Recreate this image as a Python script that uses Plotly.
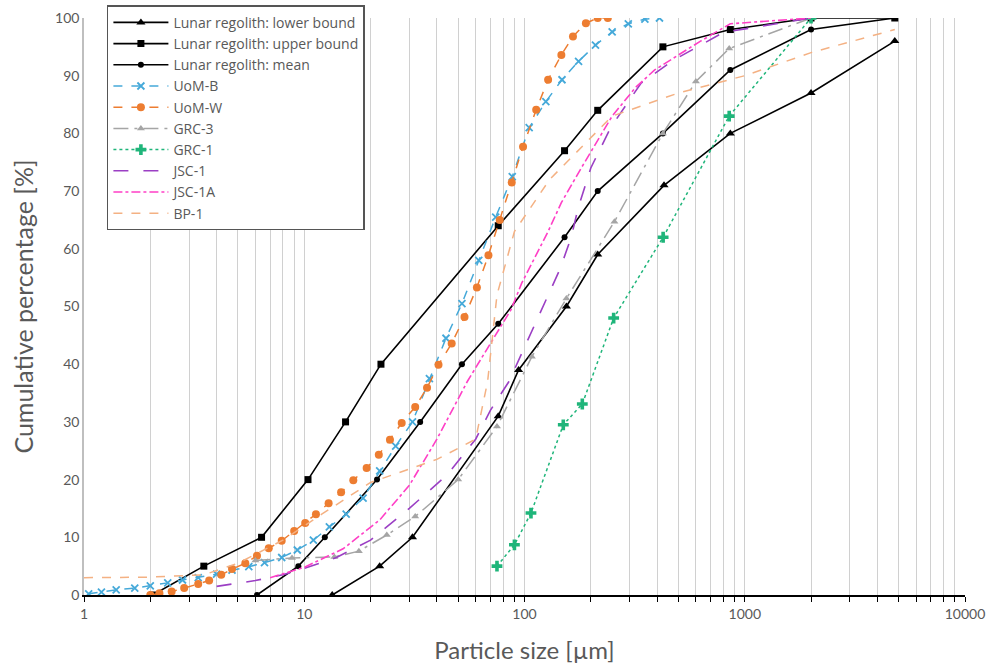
import plotly.graph_objects as go

# ---------------- data ----------------
lower_x = [13.4, 22, 31, 76, 94, 155, 215, 430, 860, 2000, 4800]
lower_y = [0, 5, 10, 31, 39, 50, 59, 71, 80, 87, 96]

upper_x = [2.05, 3.5, 6.4, 10.4, 15.4, 22.3, 76, 152, 215, 425, 860, 2000, 4800]
upper_y = [0, 5, 10, 20, 30, 40, 64, 77, 84, 95, 98, 100, 100]

mean_x = [6.1, 9.4, 12.4, 21.4, 33.6, 52, 76, 152, 215, 425, 860, 2000, 4800]
mean_y = [0, 5, 10, 20, 30, 40, 47, 62, 70, 80, 91, 98, 100]

uomb_x = [1.05, 1.2, 1.4, 1.7, 2, 2.4, 2.8, 3.3, 4, 4.7, 5.6, 6.6, 7.9, 9.3, 11, 13, 15.5,
          18.5, 22, 26, 31, 37, 44, 52, 62, 74, 88, 105, 125, 148, 176, 210, 250, 296, 352, 410]
uomb_y = [0.2, 0.5, 0.9, 1.2, 1.6, 2.1, 2.6, 3.0, 3.6, 4.3, 4.9, 5.6, 6.5, 7.8, 9.5, 11.8, 14,
          16.8, 21.5, 25.8, 30, 37.5, 44.5, 50.5, 58, 65.5, 72.5, 81, 85.5, 89.3, 92.5, 95.3, 97.6, 99, 99.8, 100]

uomw_x = [2, 2.2, 2.5, 2.85, 3.3, 3.7, 4.2, 4.7, 5.4, 6.1, 6.9, 7.9, 9, 10.1, 11.3, 12.9, 14.7,
          16.7, 19.2, 21.8, 24.5, 27.7, 31.9, 36.1, 40.7, 46.7, 53.4, 60.8, 68.6, 77.2, 87.5,
          98.5, 113, 128, 147, 166, 190, 215, 239]
uomw_y = [0, 0.3, 0.6, 1.2, 1.9, 2.5, 3.5, 4.5, 5.5, 6.8, 8.1, 9.4, 11.1, 12.5, 14, 15.9, 17.8,
          19.9, 22, 24.3, 26.9, 29.8, 32.6, 35.9, 39.9, 43.6, 48.2, 53.3, 58.9, 65, 71.5,
          77.7, 84.1, 89.3, 93.6, 96.8, 99.1, 100, 100]

grc3_x = [6, 8.8, 13.7, 17.7, 23.7, 31.9, 50, 75, 108, 155, 256, 425, 600, 850, 2000]
grc3_y = [6, 6.4, 6.6, 7.6, 10.4, 13.6, 20, 29.2, 41.3, 51.4, 64.7, 80, 89, 94.7, 100]

grc1_x = [75, 90, 107, 150, 183, 254, 426, 850, 2000]
grc1_y = [5, 8.7, 14.2, 29.5, 33.1, 48, 62, 83, 100]

jsc1_x = [4, 6, 8, 10, 14, 20, 30, 45, 60, 70, 85, 100, 120, 145, 163, 175, 200, 246, 338, 475, 800, 2000]
jsc1_y = [1.5, 2.5, 3.5, 4.6, 6.5, 9.5, 15, 21, 27, 32, 37, 43, 49.5, 56.5, 62, 67, 74, 81, 88.7, 92.7, 97.5, 100]

jsc1a_x = [7, 10, 15, 22, 30, 40, 55, 70, 87, 97, 128, 147, 181, 250, 320, 390, 630, 860, 2000]
jsc1a_y = [3, 4.8, 8, 13, 19, 27, 37, 43.5, 49.5, 54, 63, 68, 74, 83, 88, 91, 96, 99, 100]

bp1_x = [1, 2, 3.5, 5, 8, 12, 20, 40, 60, 68, 75, 90, 130, 250, 500, 1000, 2000, 4800]
bp1_y = [3, 3.1, 3.5, 5.5, 9.5, 14, 19.5, 23.5, 27, 37, 52, 63, 72, 83, 87, 90, 94, 98]

x_major = [1, 10, 100, 1000, 10000]
x_major_labels = ["1", "10", "100", "1000", "10000"]

# ---------------- figure ----------------
fig = go.Figure()

def add(name, xs, ys, color, dash, width, symbol=None, msize=7, mline=0):
    mode = "lines+markers" if symbol else "lines"
    marker = dict(symbol=symbol, size=msize, color=color,
                  line=dict(width=mline, color=color)) if symbol else None
    fig.add_trace(go.Scatter(x=xs, y=ys, name=name, mode=mode,
                             line=dict(color=color, dash=dash, width=width),
                             marker=marker))

add("Lunar regolith: lower bound", lower_x, lower_y, "#000000", "solid", 1.6, "triangle-up", 8)
add("Lunar regolith: upper bound", upper_x, upper_y, "#000000", "solid", 1.6, "square", 7)
add("Lunar regolith: mean", mean_x, mean_y, "#000000", "solid", 1.6, "circle", 6)
add("UoM-B", uomb_x, uomb_y, "#45A9D9", "dash", 1.5, "x-thin", 7, 1.8)
add("UoM-W", uomw_x, uomw_y, "#ED7D31", "dash", 1.5, "circle", 8)
add("GRC-3", grc3_x, grc3_y, "#A5A5A5", "longdashdot", 1.5, "triangle-up", 7)
add("GRC-1", grc1_x, grc1_y, "#1FB57A", "dot", 1.5, "cross", 9)
add("JSC-1", jsc1_x, jsc1_y, "#9B3FC4", "longdash", 1.6)
add("JSC-1A", jsc1a_x, jsc1a_y, "#FF3FC6", "dashdot", 1.6)
add("BP-1", bp1_x, bp1_y, "#F4B183", "dash", 1.5)

minor_vals = [m * d for d in [1, 10, 100, 1000] for m in range(2, 10)]

fig.update_layout(
    width=991, height=669,
    margin=dict(l=84, r=26, t=18, b=74, autoexpand=False),
    paper_bgcolor="white", plot_bgcolor="white",
    font=dict(family="Lato, Open Sans, sans-serif", color="#595959", size=14),
    showlegend=True,
    legend=dict(x=0.026, y=1.022, xanchor="left", yanchor="top",
                bgcolor="white", bordercolor="#555555", borderwidth=1.5,
                font=dict(family="Open Sans", size=14, color="#595959"), tracegroupgap=0,
                itemwidth=55),
    xaxis=dict(type="log", range=[0, 4], automargin=False,
               tickvals=x_major, ticktext=x_major_labels,
               ticks="outside", ticklen=5, tickcolor="#000000",
               showline=True, linecolor="#000000", linewidth=1.5,
               showgrid=True, gridcolor="#D0D0D0", gridwidth=1.2,
               minor=dict(tickvals=minor_vals, ticks="outside", ticklen=5,
                          tickcolor="#000000", showgrid=True,
                          gridcolor="#D0D0D0", gridwidth=1.2),
               title=dict(text="Particle size [µm]", font=dict(size=24, color="#595959"),
                          standoff=22),
               tickfont=dict(size=14, color="#595959"),
               zeroline=False),
    yaxis=dict(range=[0, 100], dtick=10, showgrid=False, zeroline=False, automargin=False,
               showline=True, linecolor="#BFBFBF", linewidth=1.5,
               ticks="", tickfont=dict(size=14, color="#595959"),
               title=dict(text="Cumulative percentage [%]", font=dict(size=25, color="#595959"),
                          standoff=14)),
)

fig.write_html("out.html")
